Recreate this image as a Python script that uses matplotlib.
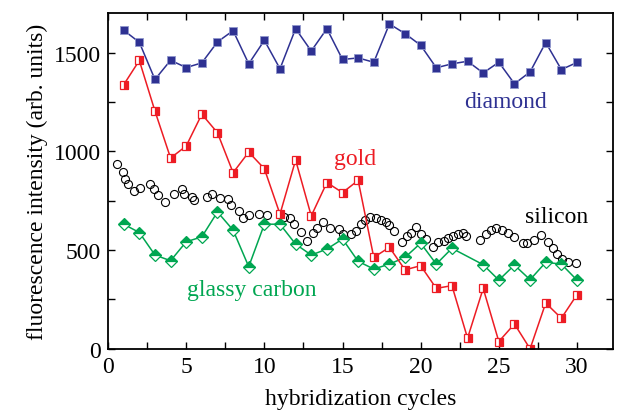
import matplotlib
matplotlib.use("Agg")
import matplotlib.pyplot as plt
from matplotlib.ticker import MultipleLocator

plt.rcParams['font.family'] = ['Liberation Serif', 'DejaVu Serif']

cycles = list(range(1, 31))
diamond = [1613, 1552, 1364, 1461, 1424, 1448, 1554, 1611, 1443, 1562,
           1418, 1621, 1508, 1621, 1465, 1473, 1451, 1645, 1596, 1537,
           1423, 1443, 1456, 1397, 1451, 1342, 1402, 1551, 1414, 1450]
gold = [1337, 1460, 1204, 966, 1027, 1188, 1094, 892, 996, 912,
        682, 956, 673, 842, 791, 853, 463, 514, 400, 421,
        306, 320, 54, 306, 37, 126, 0, 232, 155, 274]
glassy_x = [1, 2, 3, 4, 5, 6, 7, 8, 9, 10, 11, 12, 13, 14, 15, 16, 17, 18,
            19, 20, 21, 22, 24, 25, 26, 27, 28, 29, 30]
glassy = [631, 589, 475, 446, 542, 567, 693, 601, 416, 631, 631, 530, 475,
          505, 556, 443, 404, 429, 463, 535, 429, 509, 426, 348, 424, 350,
          438, 429, 348]
silicon_x = [0.58, 0.96, 1.11, 1.26, 1.69, 2.07, 2.71, 2.97, 3.18, 3.67,
             4.21, 4.74, 4.89, 5.38, 5.53, 6.3, 6.67, 7.16, 7.67, 7.88,
             8.35, 8.65, 9.04, 9.63, 10.17, 11.28, 11.65, 11.92, 12.35, 12.71,
             13.1, 13.38, 13.74, 14.21, 14.8, 15.02, 15.56, 15.88, 16.2, 16.47,
             16.77, 17.12, 17.48, 17.8, 18.0, 18.29, 18.83, 19.12, 19.4, 19.72,
             20.04, 20.37, 20.79, 21.1, 21.47, 21.75, 22.07, 22.4, 22.71, 22.93,
             23.8, 24.2, 24.5, 24.85, 25.2, 25.6, 25.96, 26.56, 26.8, 27.24,
             27.67, 28.16, 28.44, 28.74, 29.02, 29.44, 29.94]
silicon = [934, 896, 862, 833, 800, 813, 837, 808, 778, 744,
           786, 808, 783, 769, 754, 769, 783, 766, 758, 727,
           698, 662, 677, 685, 677, 668, 660, 631, 594, 547,
           584, 611, 643, 611, 606, 581, 581, 597, 631, 653,
           670, 660, 653, 643, 626, 597, 539, 569, 589, 615,
           581, 556, 517, 539, 547, 559, 572, 581, 586, 572,
           551, 581, 603, 610, 603, 589, 564, 534, 534, 551,
           576, 539, 509, 480, 455, 438, 434]

navy = '#2e3192'
red = '#ed1c24'
green = '#00a651'

fig = plt.figure(figsize=(6.21, 4.14), dpi=100)
ax = fig.add_axes([0.174, 0.155, 0.813, 0.811])

ax.plot(silicon_x, silicon, linestyle='none', marker='o', ms=5.8,
        mfc='none', mec='black', mew=0.8)
ax.plot(glassy_x, glassy, color=green, lw=1.1, marker='D', ms=6,
        fillstyle='top', mfc=green, mfcalt='white', mec=green, mew=0.9)
ax.plot(cycles, gold, color=red, lw=1.1, marker='s', ms=5.5,
        fillstyle='right', mfc=red, mfcalt='white', mec=red, mew=0.9)
ax.plot(cycles, diamond, color=navy, lw=1.1, marker='s', ms=6.2,
        mfc=navy, mec='#8f96cc', mew=0.6)

ax.set_xlim(0, 32.3)
ax.set_ylim(0, 1700)
ax.xaxis.set_major_locator(MultipleLocator(5))
ax.xaxis.set_minor_locator(MultipleLocator(2.5))
ax.yaxis.set_major_locator(MultipleLocator(500))
ax.yaxis.set_minor_locator(MultipleLocator(250))
ax.tick_params(which='both', direction='in', top=True, right=True,
               labelsize=17, width=1, length=5, pad=5)
for s in ax.spines.values():
    s.set_linewidth(1.3)

ax.set_xlabel('hybridization cycles', fontsize=17, labelpad=8)
ax.set_ylabel('fluorescence intensity (arb. units)', fontsize=17, labelpad=4)

ax.text(25.4, 1250, 'diamond', color=navy, fontsize=17, ha='center', va='center')
ax.text(15.8, 965, 'gold', color=red, fontsize=17, ha='center', va='center')
ax.text(28.7, 672, 'silicon', color='black', fontsize=17, ha='center', va='center')
ax.text(9.2, 300, 'glassy carbon', color=green, fontsize=17, ha='center', va='center')

fig.savefig('out.png', dpi=100)
